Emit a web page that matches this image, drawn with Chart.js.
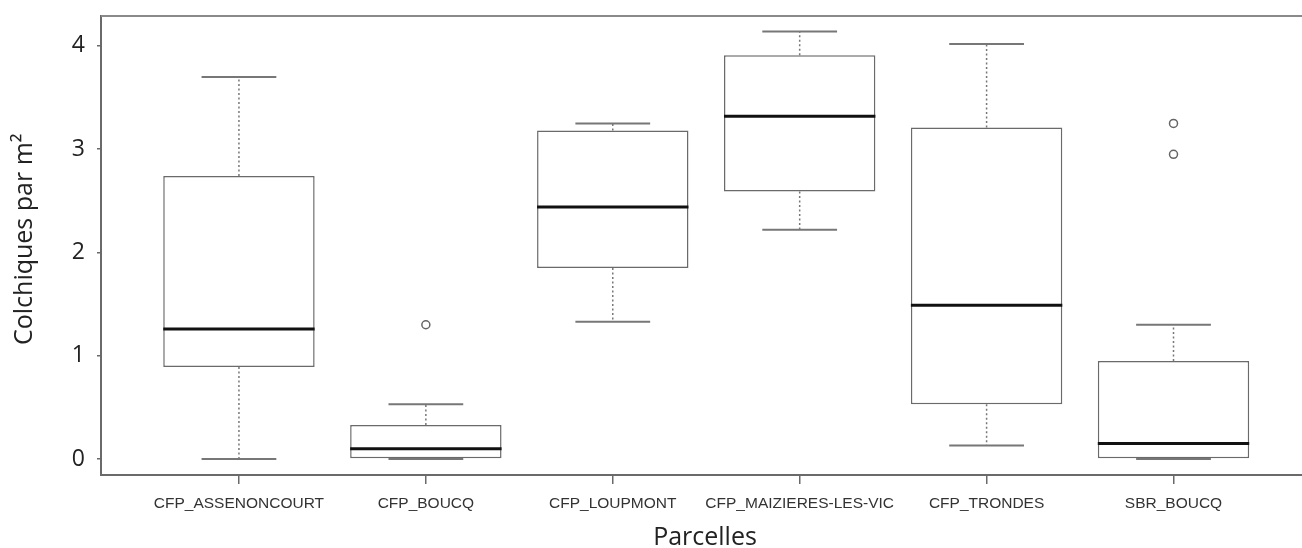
<!DOCTYPE html>
<html>
<head>
<meta charset="utf-8">
<script src="https://cdn.jsdelivr.net/npm/chart.js@4.4.1/dist/chart.umd.min.js"></script>
<style>
  html, body { margin: 0; padding: 0; background: #fff; }
  #wrap { width: 1302px; height: 548px; }
</style>
</head>
<body>
<div id="wrap"><canvas id="boxChart" width="1302" height="548"></canvas></div>
<script>
// Boxplot des colchiques par parcelle
const parcelles = ['CFP_ASSENONCOURT', 'CFP_BOUCQ', 'CFP_LOUPMONT', 'CFP_MAIZIERES-LES-VIC', 'CFP_TRONDES', 'SBR_BOUCQ'];
const minis    = [0.00, 0.00, 1.33, 2.22, 0.13, 0.00];
const q1s      = [0.89, 0.00, 1.85, 2.59, 0.53, 0.00];
const medianes = [1.26, 0.10, 2.44, 3.32, 1.49, 0.15];
const q3s      = [2.74, 0.33, 3.18, 3.91, 3.21, 0.95];
const maxis    = [3.70, 0.53, 3.25, 4.14, 4.02, 1.30];
const outliersX = [2, 6, 6];
const outliersY = [1.30, 2.95, 3.25];
const yTicks = [0, 1, 2, 3, 4];

const lineGray = '#6a6a6a';

// moustaches, bornes et médianes dessinées avec les échelles du graphique
const boxExtras = {
    id: 'boxExtras',
    beforeDatasetsDraw(chart) {
        const ctx = chart.ctx, xs = chart.scales.x, ys = chart.scales.y, area = chart.chartArea;
        ctx.save();
        // bord supérieur du cadre + prolongement de l'axe x jusqu'au bord
        ctx.strokeStyle = '#8a8a8a';
        ctx.lineWidth = 2;
        ctx.beginPath();
        ctx.moveTo(area.left, area.top);
        ctx.lineTo(chart.width, area.top);
        ctx.stroke();
        ctx.strokeStyle = lineGray;
        ctx.beginPath();
        ctx.moveTo(area.right - 1, area.bottom);
        ctx.lineTo(chart.width, area.bottom);
        ctx.stroke();

        parcelles.forEach(function (p, i) {
            var cx = xs.getPixelForValue(i + 1);
            ctx.strokeStyle = '#777';
            ctx.lineWidth = 1.5;
            ctx.setLineDash([2, 2.5]);
            ctx.beginPath();
            ctx.moveTo(cx, ys.getPixelForValue(q3s[i]));
            ctx.lineTo(cx, ys.getPixelForValue(maxis[i]));
            ctx.moveTo(cx, ys.getPixelForValue(q1s[i]));
            ctx.lineTo(cx, ys.getPixelForValue(minis[i]));
            ctx.stroke();
            ctx.setLineDash([]);
            var l = xs.getPixelForValue(i + 0.8), r = xs.getPixelForValue(i + 1.2);
            ctx.strokeStyle = '#777';
            ctx.lineWidth = 2;
            ctx.beginPath();
            ctx.moveTo(l, ys.getPixelForValue(maxis[i]));
            ctx.lineTo(r, ys.getPixelForValue(maxis[i]));
            ctx.moveTo(l, ys.getPixelForValue(minis[i]));
            ctx.lineTo(r, ys.getPixelForValue(minis[i]));
            ctx.stroke();
        });
        ctx.restore();
    },
    afterDatasetsDraw(chart) {
        const ctx = chart.ctx, xs = chart.scales.x, ys = chart.scales.y;
        ctx.save();
        ctx.strokeStyle = '#111';
        ctx.lineWidth = 3;
        parcelles.forEach(function (p, i) {
            var l = xs.getPixelForValue(i + 0.595), r = xs.getPixelForValue(i + 1.405);
            var y = ys.getPixelForValue(medianes[i]);
            ctx.beginPath();
            ctx.moveTo(l, y);
            ctx.lineTo(r, y);
            ctx.stroke();
        });
        ctx.restore();
    }
};

const boites = parcelles.map(function (p, i) { return { x: i + 1, y: [q1s[i], q3s[i]] }; });
const points = outliersX.map(function (x, i) { return { x: x, y: outliersY[i] }; });

new Chart(document.getElementById('boxChart'), {
    type: 'bar',
    data: {
        datasets: [
            {
                type: 'scatter',
                data: points,
                pointRadius: 4,
                pointBorderWidth: 1.5,
                pointBorderColor: '#666',
                pointBackgroundColor: '#fff'
            },
            {
                data: boites,
                backgroundColor: '#fff',
                borderColor: lineGray,
                borderWidth: 1.5,
                borderSkipped: false,
                barPercentage: 0.81,
                categoryPercentage: 1.0
            }
        ]
    },
    options: {
        responsive: false,
        animation: false,
        layout: { padding: { top: 16, left: 0, right: 0, bottom: 0 } },
        plugins: { legend: { display: false }, tooltip: { enabled: false } },
        scales: {
            x: {
                type: 'linear',
                offset: false,
                min: 0.262,
                max: 6.658,
                afterBuildTicks: function (scale) {
                    scale.ticks = parcelles.map(function (p, i) { return { value: i + 1 }; });
                },
                afterFit: function (scale) {
                    scale.height = 73;
                    scale.paddingLeft = 0;
                    scale.paddingRight = 0;
                },
                ticks: {
                    autoSkip: false,
                    maxRotation: 0,
                    padding: 10,
                    color: '#333',
                    font: { family: 'Liberation Sans', size: 15.5 },
                    callback: function (v, idx) { return parcelles[idx]; }
                },
                grid: { display: true, offset: false, drawOnChartArea: false, drawTicks: true, tickLength: 9, color: lineGray, lineWidth: 1.5 },
                border: { display: true, color: lineGray, width: 2 },
                title: {
                    display: true, text: '\u2002Parcelles', color: '#222',
                    font: { family: 'Open Sans', size: 25, lineHeight: 1 },
                    padding: { top: 0, bottom: -2 }
                }
            },
            y: {
                min: -0.155,
                max: 4.29,
                afterBuildTicks: function (scale) {
                    scale.ticks = yTicks.map(function (v) { return { value: v }; });
                },
                afterFit: function (scale) {
                    scale.width = 101;
                    scale.paddingTop = 0;
                    scale.paddingBottom = 0;
                },
                ticks: {
                    padding: 12,
                    color: '#222',
                    font: { family: 'Open Sans', size: 23 }
                },
                grid: { display: true, drawOnChartArea: false, drawTicks: true, tickLength: 4, color: lineGray, lineWidth: 1.5 },
                border: { display: true, color: lineGray, width: 2 },
                title: {
                    display: true, text: '\u2002Colchiques par m²', color: '#222',
                    font: { family: 'Open Sans', size: 25, lineHeight: 1 },
                    padding: { top: 12, bottom: 0 }
                }
            }
        }
    },
    plugins: [boxExtras]
});
</script>
</body>
</html>
